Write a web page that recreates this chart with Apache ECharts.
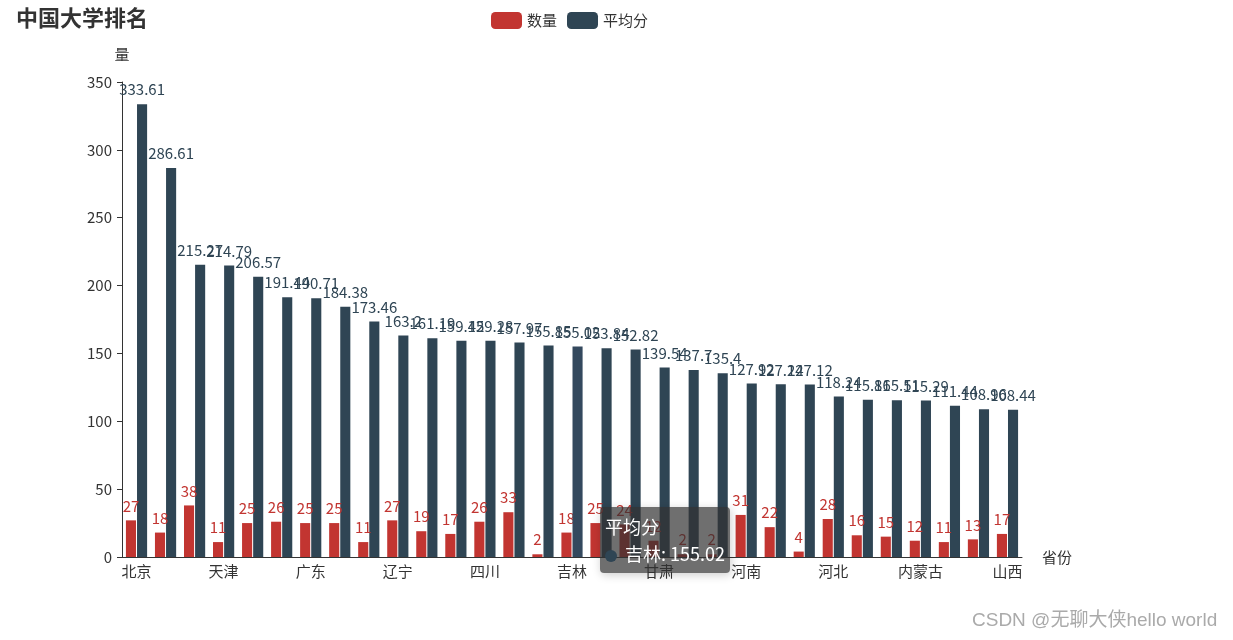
<!DOCTYPE html>
<html>
<head>
<meta charset="utf-8">
<script src="https://cdn.jsdelivr.net/npm/echarts@6/dist/echarts.min.js"></script>
<style>html,body{margin:0;padding:0;background:#fff}#c{width:1233px;height:640px}</style>
</head>
<body>
<div id="c"></div>
<script>
const provinces = ['北京','上海','浙江','天津','江苏','湖北','广东','陕西','福建','辽宁','湖南','重庆','四川','山东','黑龙江','吉林','安徽','江西','甘肃','海南','宁夏','河南','云南','青海','河北','广西','贵州','内蒙古','新疆','西藏','山西'];
const counts = [27,18,38,11,25,26,25,25,11,27,19,17,26,33,2,18,25,24,12,2,2,31,22,4,28,16,15,12,11,13,17];
const avgScores = [333.61,286.61,215.27,214.79,206.57,191.44,190.71,184.38,173.46,163.2,161.19,159.42,159.28,157.97,155.85,155.02,153.84,152.82,139.54,137.7,135.4,127.92,127.24,127.12,118.24,115.86,115.51,115.29,111.44,108.96,108.44];
const yTicks = {min:0, max:350, interval:50};

const FONT = '"Noto Sans CJK SC", "Microsoft YaHei", sans-serif';
const chart = echarts.init(document.getElementById('c'));
chart.setOption({
  animation:false,
  textStyle:{fontFamily:FONT},
  title:{text:'中国大学排名', left:11, top:2, textStyle:{fontSize:22, fontWeight:'bold', color:'#333', fontFamily:FONT}},
  legend:{left:486, top:7, itemWidth:31, itemHeight:17, itemGap:10,
    textStyle:{fontSize:15, color:'#333', fontFamily:FONT},
    data:['数量','平均分']},
  tooltip:{trigger:'item', backgroundColor:'rgba(50,50,50,0.7)', borderWidth:0, padding:[6,5],
    textStyle:{color:'#fff', fontSize:18, fontFamily:FONT},
    formatter:function(p){return '<div style="line-height:27px">'+p.seriesName+'<br/><span style="display:inline-block;width:12px;height:12px;border-radius:6px;background:'+p.color+';margin-right:8px;vertical-align:middle"></span>'+p.name+': '+p.value+'</div>';},
    position:function(){return [600,507];}},
  grid:{left:122, right:211, top:82, bottom:83},
  xAxis:{type:'category', data:provinces, name:'省份', nameGap:20,
    nameTextStyle:{fontSize:15, color:'#333', fontFamily:FONT},
    axisLine:{lineStyle:{color:'#333'}},
    axisTick:{interval:2, lineStyle:{color:'#333'}},
    axisLabel:{interval:2, fontSize:15, color:'#333', margin:7, fontFamily:FONT}},
  yAxis:{type:'value', min:yTicks.min, max:yTicks.max, interval:yTicks.interval, name:'量', nameGap:20,
    nameTextStyle:{fontSize:15, color:'#333', fontFamily:FONT},
    axisLine:{show:true, lineStyle:{color:'#333'}},
    axisTick:{show:true, lineStyle:{color:'#333'}},
    splitLine:{show:false},
    axisLabel:{fontSize:15, color:'#333', margin:10, fontFamily:FONT}},
  series:[
    {name:'数量', type:'bar', data:counts, itemStyle:{color:'#c23531'},
      label:{show:true, position:'top', distance:7, fontSize:15, color:'#c23531', fontFamily:FONT}},
    {name:'平均分', type:'bar', data:avgScores, itemStyle:{color:'#2f4554'},
      emphasis:{itemStyle:{color:'#34495e'}},
      label:{show:true, position:'top', distance:7, fontSize:15, color:'#2f4554', fontFamily:FONT}}
  ],
  graphic:[{type:'text', left:972, top:611, style:{text:'CSDN @无聊大侠hello world', fontSize:19, fill:'#aaa', fontFamily:'"Liberation Sans", "Noto Sans CJK SC", sans-serif'}}]
});
chart.dispatchAction({type:'highlight', seriesIndex:1, dataIndex:15});
chart.dispatchAction({type:'showTip', seriesIndex:1, dataIndex:15});
</script>
</body>
</html>
